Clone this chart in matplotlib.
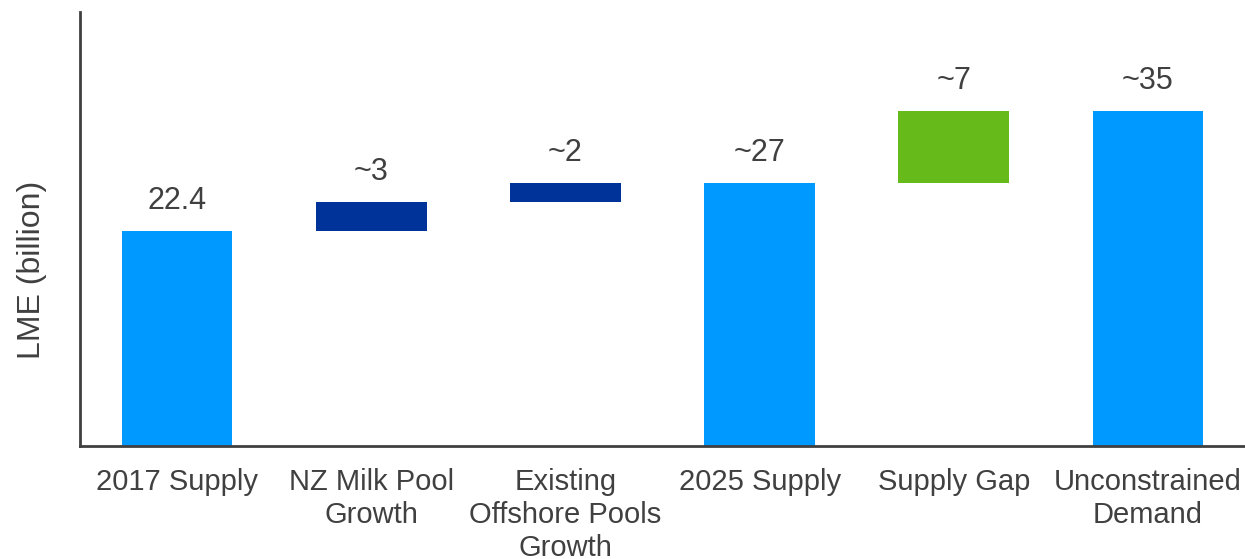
import matplotlib.pyplot as plt

# LME supply walk, billions
categories = ["2017 Supply", "NZ Milk Pool\nGrowth", "Existing\nOffshore Pools\nGrowth",
              "2025 Supply", "Supply Gap", "Unconstrained\nDemand"]
values = [22.4, 3.0, 2.0, 27.4, 7.5, 34.9]
bases = [0, 22.4, 25.4, 0, 27.4, 0]
labels = ["22.4", "~3", "~2", "~27", "~7", "~35"]
colors = ["#0099ff", "#003399", "#003399", "#0099ff", "#66bb1a", "#0099ff"]

plt.rcParams['font.family'] = ['Liberation Sans', 'DejaVu Sans']
text_color = "#404040"

fig = plt.figure(figsize=(12.45, 5.59), dpi=100)
ax = fig.add_axes([80 / 1245, 1 - 446 / 559, 1165 / 1245, 434 / 559])

x = range(len(categories))
ax.bar(x, values, bottom=bases, width=0.57, color=colors)

for i, (v, b, lab) in enumerate(zip(values, bases, labels)):
    ax.annotate(lab, (i, v + b), xytext=(0, 11), textcoords="offset points",
                ha="center", va="bottom", fontsize=22, color=text_color)

ax.set_xlim(-0.5, 5.5)
ax.set_ylim(0, 45.2)
ax.set_xticks(list(x))
ax.set_xticklabels(categories, fontsize=21, color=text_color, linespacing=1.22)
ax.tick_params(axis="x", length=0, pad=16)
ax.set_yticks([])
ax.set_ylabel("LME (billion)", fontsize=23, color=text_color)
ax.yaxis.set_label_coords(-0.028, 0.405)

for side in ["top", "right"]:
    ax.spines[side].set_visible(False)
for side in ["left", "bottom"]:
    ax.spines[side].set_color("#404040")
    ax.spines[side].set_linewidth(2)

fig.savefig("out.png", dpi=100)
